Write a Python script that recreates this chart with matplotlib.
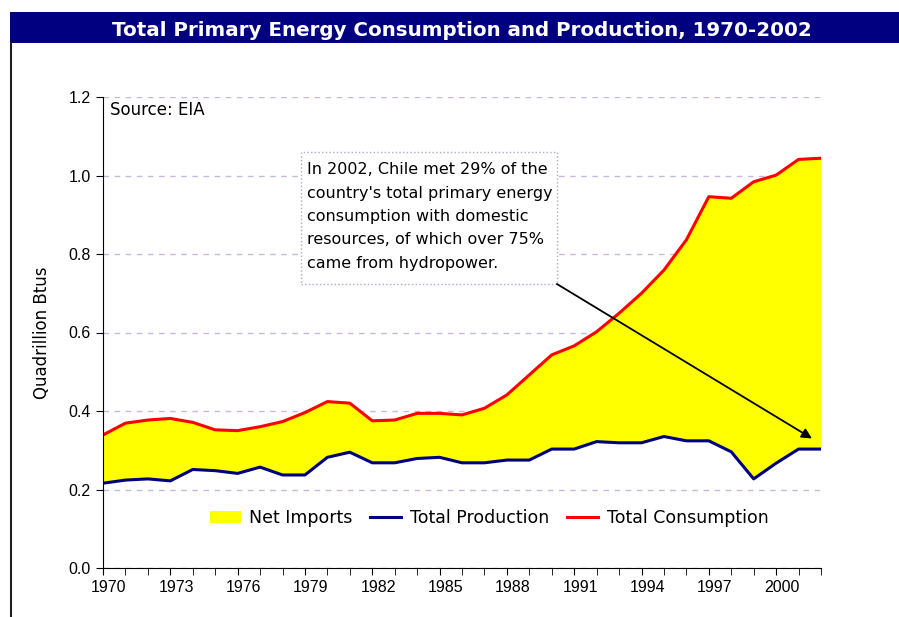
import matplotlib.pyplot as plt
import matplotlib.transforms as mtransforms
from matplotlib.patches import Rectangle
from matplotlib.lines import Line2D

years = list(range(1970, 2003))
consumption = [0.339, 0.369, 0.377, 0.381, 0.371, 0.352, 0.350, 0.360, 0.373, 0.396,
               0.424, 0.420, 0.375, 0.377, 0.394, 0.394, 0.390, 0.407, 0.441, 0.492,
               0.543, 0.566, 0.602, 0.649, 0.700, 0.759, 0.836, 0.946, 0.942, 0.984,
               1.001, 1.041, 1.044]
production = [0.216, 0.224, 0.227, 0.222, 0.251, 0.248, 0.241, 0.257, 0.237, 0.237,
              0.282, 0.295, 0.268, 0.268, 0.279, 0.282, 0.268, 0.268, 0.275, 0.275,
              0.303, 0.303, 0.322, 0.319, 0.319, 0.335, 0.324, 0.324, 0.296, 0.227,
              0.267, 0.303, 0.303]
tick_years = list(range(1970, 2001, 3))
y_ticks = [0, 0.2, 0.4, 0.6, 0.8, 1.0, 1.2]
note = ("In 2002, Chile met 29% of the\ncountry's total primary energy\n"
        "consumption with domestic\nresources, of which over 75%\ncame from hydropower.")

plt.rcParams['font.family'] = ['DejaVu Sans']

fig = plt.figure(figsize=(8.99, 6.17), dpi=100)

# title bar + left frame line
fig.patches.append(Rectangle((10/899, 1 - 43/617), 889/899, 31/617, transform=fig.transFigure,
                             facecolor='#000080', edgecolor='none'))
fig.text(462/899, 1 - 36/617, 'Total Primary Energy Consumption and Production, 1970-2002',
         color='white', fontsize=14.3, fontweight='bold', ha='center', va='baseline')
fig.add_artist(Line2D([10.5/899, 10.5/899], [0, 1 - 43/617], transform=fig.transFigure,
                      color='#202020', lw=1.5))

ax = fig.add_axes([103/899, 49/617, 718/899, 471/617])
ax.fill_between(years, production, consumption, color='#FFFF00', lw=0, label='Net Imports')
ax.plot(years, production, color='#000080', lw=2.2, label='Total Production')
ax.plot(years, consumption, color='#FF0000', lw=2.2, label='Total Consumption')

ax.set_xlim(1970, 2002)
ax.set_ylim(0, 1.2)
ax.set_xticks(years, minor=True)
ax.set_xticks(tick_years)
ax.set_xticklabels([str(y) for y in tick_years], fontsize=11.5, family='Liberation Sans')
ax.tick_params(axis='x', which='both', length=5, direction='out', pad=4)
shift = mtransforms.ScaledTranslation(6/100, 0, fig.dpi_scale_trans)
for lab in ax.get_xticklabels():
    lab.set_transform(lab.get_transform() + shift)
ax.set_yticks(y_ticks)
ax.set_yticklabels(['%.1f' % v for v in y_ticks], fontsize=11.5, family='Liberation Sans')
ax.tick_params(axis='y', length=5, direction='out', pad=4)
ax.spines['top'].set_visible(False)
ax.spines['right'].set_visible(False)
ax.yaxis.grid(True, linestyle=(0, (4, 4)), color='#c8b8d8', lw=1)
ax.set_axisbelow(True)
ax.set_ylabel('Quadrillion Btus', fontsize=12)
ax.yaxis.set_label_coords(-0.0724, 0.5)

ax.text(1970.3, 1.167, 'Source: EIA', fontsize=12, va='center')

# callout box and arrow
ax.add_patch(Rectangle((1978.82, 0.7236), 11.41, 0.3363, facecolor='white',
                       edgecolor='#b0a8c8', linestyle=':', lw=1, zorder=4))
ax.text(1979.1, 0.8955, note, fontsize=11.5, ha='left', va='center', linespacing=1.7, zorder=5)
ax.annotate('', xy=(2001.6, 0.33), xytext=(1990.23, 0.7236),
            arrowprops=dict(arrowstyle='-|>', color='black', lw=1.3, mutation_scale=15,
                            shrinkA=0, shrinkB=0), zorder=6)

ax.legend(loc='center', bbox_to_anchor=(0.5376, 0.106), ncol=3, frameon=False,
          fontsize=12.5, handlelength=1.8, columnspacing=1.0, handletextpad=0.5)

plt.savefig('out.png', dpi=100)
